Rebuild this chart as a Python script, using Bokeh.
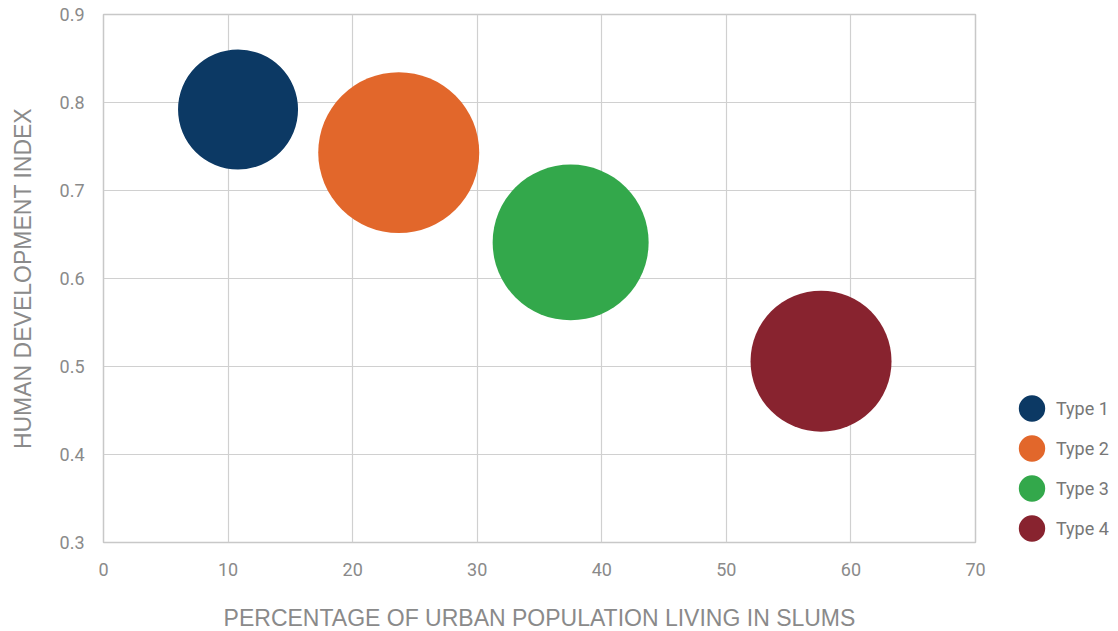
from bokeh.plotting import figure
from bokeh.models import Legend, LegendItem, FixedTicker, ColumnDataSource, NumeralTickFormatter
from bokeh.embed import file_html
from bokeh.resources import INLINE

types = ["Type 1", "Type 2", "Type 3", "Type 4"]
slum_pct = [10.8, 23.7, 37.5, 57.6]
hdi = [0.792, 0.743, 0.641, 0.506]
bubble_size = [120, 161, 156, 141]
colors = ["#0c3964", "#e2672b", "#33a84b", "#88232f"]
x_ticks = [0, 10, 20, 30, 40, 50, 60, 70]
y_ticks = [0.3, 0.4, 0.5, 0.6, 0.7, 0.8, 0.9]

TICK_FONT = "Roboto"
LABEL_FONT = "Liberation Sans"
GRAY = "#8a8a8a"

p = figure(frame_width=872, frame_height=528, x_range=(0, 70), y_range=(0.3, 0.9),
           output_backend="svg", toolbar_location=None,
           min_border_left=103, min_border_top=14, min_border_bottom=88, min_border_right=135)

p.outline_line_color = "#c8c8c8"
p.outline_line_width = 1.5
p.background_fill_color = "white"
p.border_fill_color = "white"

for ax in (p.xaxis[0], p.yaxis[0]):
    ax.axis_line_color = None
    ax.major_tick_line_color = None
    ax.minor_tick_line_color = None
    ax.major_label_text_font = TICK_FONT
    ax.major_label_text_color = GRAY
    ax.major_label_text_font_size = "18px"
    ax.axis_label_text_font = LABEL_FONT
    ax.axis_label_text_color = GRAY
    ax.axis_label_text_font_size = "23px"
    ax.axis_label_text_font_style = "normal"

p.xaxis.ticker = FixedTicker(ticks=x_ticks)
p.yaxis.ticker = FixedTicker(ticks=y_ticks)
p.yaxis.formatter = NumeralTickFormatter(format="0.0")
p.xaxis.major_label_standoff = 14
p.yaxis.major_label_standoff = 13
p.xaxis.axis_label = "PERCENTAGE OF URBAN POPULATION LIVING IN SLUMS"
p.yaxis.axis_label = "HUMAN DEVELOPMENT INDEX"
p.xaxis.axis_label_standoff = 26
p.yaxis.axis_label_standoff = 21

p.xgrid.grid_line_color = "#d0d0d0"
p.ygrid.grid_line_color = "#d0d0d0"
p.xgrid.grid_line_width = 1.2
p.ygrid.grid_line_width = 1.2

items = []
for t, x, y, s, c in zip(types, slum_pct, hdi, bubble_size, colors):
    src = ColumnDataSource(dict(x=[x], y=[y], s=[s]))
    r = p.ellipse("x", "y", width="s", height="s", width_units="screen", height_units="screen",
                  source=src, fill_color=c, line_color=None)
    items.append(LegendItem(label=t, renderers=[r]))

legend = Legend(items=items, location=(40, -6), glyph_height=40, glyph_width=33,
                spacing=0, label_standoff=8, padding=0, margin=0,
                border_line_color=None, background_fill_alpha=0,
                label_text_font=TICK_FONT, label_text_color="#777777", label_text_font_size="18px")
p.add_layout(legend, "right")

open("out.html", "w").write(file_html(p, INLINE))
